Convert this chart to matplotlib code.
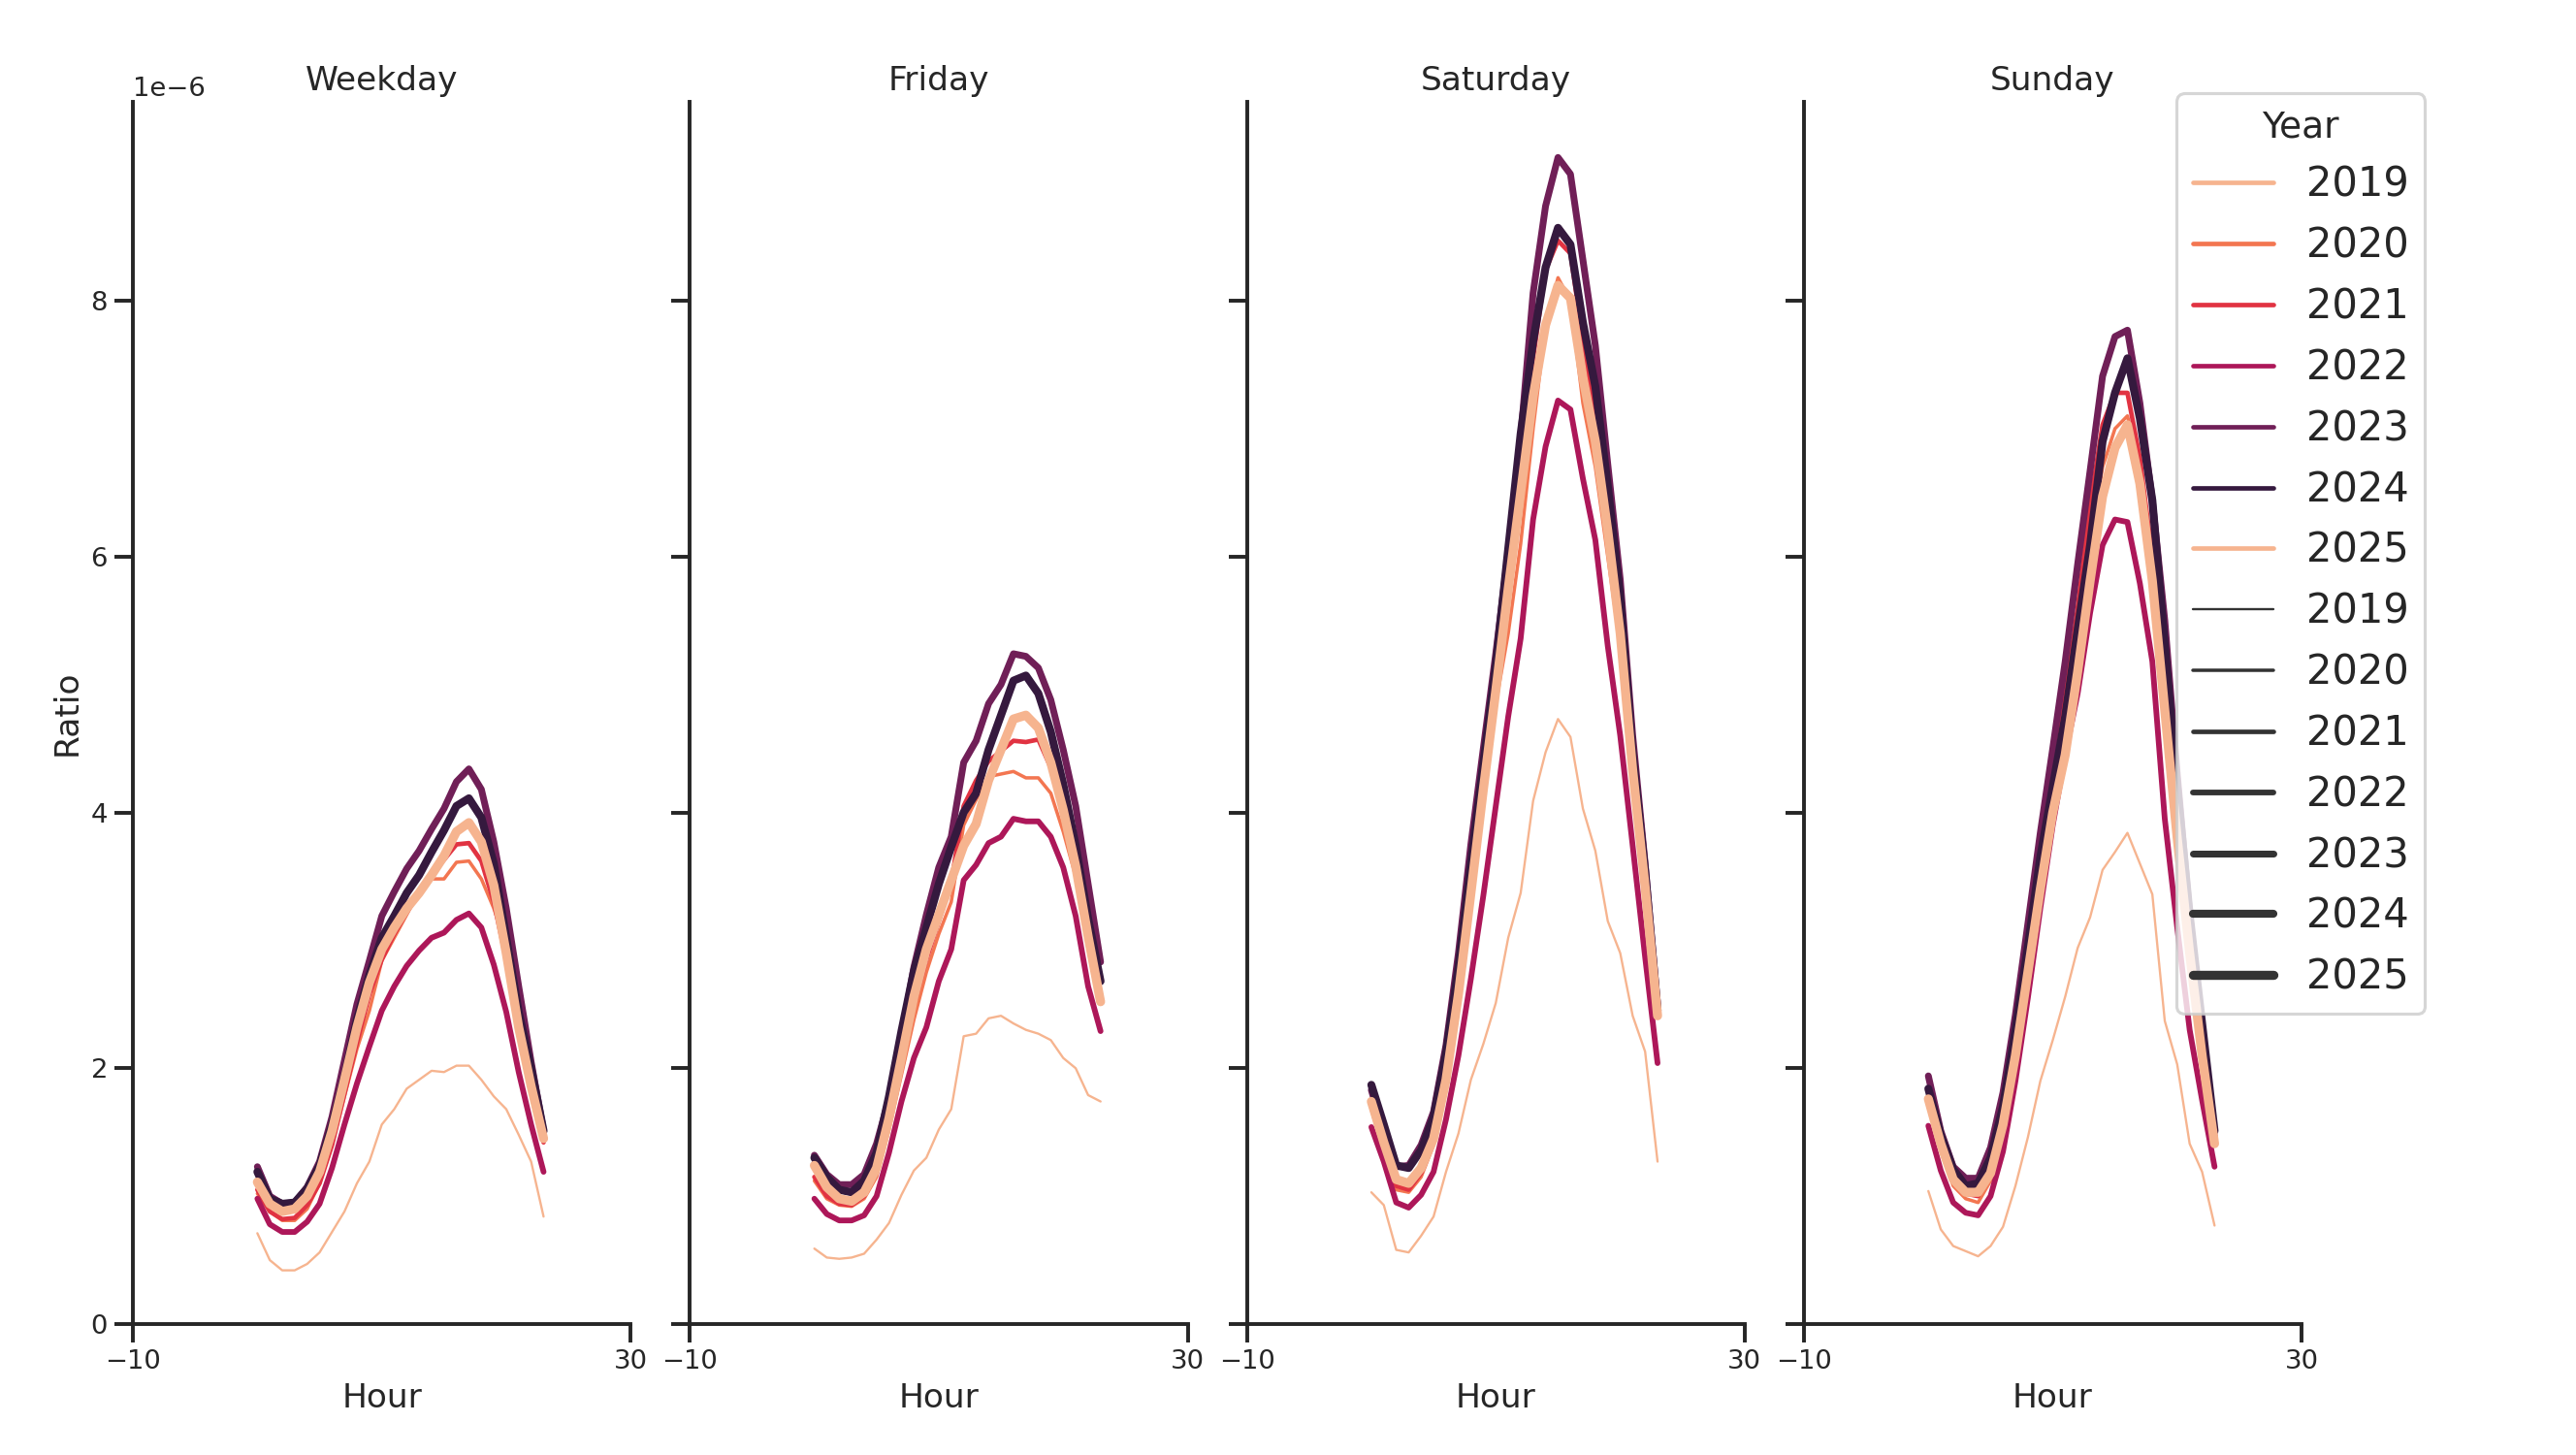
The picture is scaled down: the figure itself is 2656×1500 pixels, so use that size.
import numpy as np
import matplotlib
matplotlib.use("Agg")
import matplotlib.pyplot as plt
import seaborn as sns
from matplotlib.lines import Line2D

# Hour of day on the x axis, ratio (x 1e-6) on the y axis
hours = list(range(24))
years = [2019, 2020, 2021, 2022, 2023, 2024, 2025]
day_types = ["Weekday", "Friday", "Saturday", "Sunday"]

weekday = {
    2019: [0.71, 0.50, 0.42, 0.42, 0.47, 0.56, 0.72, 0.88, 1.10, 1.27, 1.56, 1.68,
           1.84, 1.91, 1.98, 1.97, 2.02, 2.02, 1.91, 1.78, 1.68, 1.48, 1.27, 0.84],
    2020: [1.02, 0.88, 0.81, 0.81, 0.90, 1.10, 1.40, 1.78, 2.15, 2.45, 2.84, 3.02,
           3.20, 3.38, 3.48, 3.48, 3.61, 3.62, 3.48, 3.25, 2.95, 2.45, 1.95, 1.45],
    2021: [1.05, 0.88, 0.82, 0.83, 0.93, 1.10, 1.40, 1.80, 2.20, 2.58, 2.85, 3.05,
           3.22, 3.37, 3.52, 3.63, 3.75, 3.76, 3.62, 3.30, 2.85, 2.30, 1.85, 1.42],
    2022: [0.98, 0.78, 0.72, 0.72, 0.80, 0.94, 1.22, 1.56, 1.88, 2.17, 2.45, 2.64,
           2.80, 2.92, 3.02, 3.06, 3.16, 3.21, 3.10, 2.81, 2.44, 1.97, 1.56, 1.19],
    2023: [1.23, 1.00, 0.94, 0.95, 1.07, 1.27, 1.62, 2.06, 2.50, 2.84, 3.19, 3.38,
           3.56, 3.70, 3.87, 4.03, 4.24, 4.34, 4.18, 3.77, 3.25, 2.64, 2.05, 1.51],
    2024: [1.19, 0.98, 0.94, 0.95, 1.06, 1.24, 1.56, 1.94, 2.38, 2.73, 3.02, 3.19,
           3.37, 3.51, 3.69, 3.86, 4.05, 4.11, 3.96, 3.60, 3.02, 2.44, 2.00, 1.51],
    2025: [1.11, 0.94, 0.88, 0.90, 1.00, 1.19, 1.51, 1.91, 2.32, 2.67, 2.93, 3.10,
           3.25, 3.37, 3.51, 3.66, 3.85, 3.92, 3.77, 3.43, 2.90, 2.32, 1.86, 1.45],
}

friday = {
    2019: [0.59, 0.52, 0.51, 0.52, 0.55, 0.66, 0.79, 1.01, 1.20, 1.30, 1.52, 1.68,
           2.25, 2.27, 2.39, 2.41, 2.35, 2.30, 2.27, 2.22, 2.08, 2.00, 1.79, 1.74],
    2020: [1.12, 0.98, 0.93, 0.92, 0.98, 1.15, 1.52, 1.95, 2.38, 2.75, 3.05, 3.30,
           3.90, 4.10, 4.28, 4.30, 4.32, 4.27, 4.27, 4.15, 3.85, 3.50, 3.05, 2.72],
    2021: [1.15, 1.00, 0.94, 0.93, 1.00, 1.20, 1.60, 2.05, 2.50, 2.85, 3.15, 3.45,
           4.05, 4.25, 4.40, 4.48, 4.56, 4.55, 4.57, 4.35, 4.00, 3.55, 3.05, 2.70],
    2022: [0.98, 0.86, 0.81, 0.81, 0.85, 1.00, 1.34, 1.74, 2.08, 2.32, 2.68, 2.93,
           3.47, 3.59, 3.76, 3.81, 3.95, 3.93, 3.93, 3.81, 3.57, 3.19, 2.64, 2.29],
    2023: [1.32, 1.17, 1.09, 1.09, 1.17, 1.41, 1.76, 2.25, 2.79, 3.20, 3.57, 3.81,
           4.39, 4.56, 4.85, 5.00, 5.24, 5.22, 5.13, 4.88, 4.49, 4.05, 3.44, 2.83],
    2024: [1.30, 1.15, 1.05, 1.03, 1.12, 1.34, 1.78, 2.29, 2.76, 3.10, 3.44, 3.73,
           4.00, 4.15, 4.49, 4.76, 5.03, 5.07, 4.93, 4.63, 4.22, 3.74, 3.17, 2.68],
    2025: [1.24, 1.07, 0.98, 0.96, 1.03, 1.22, 1.61, 2.08, 2.56, 2.93, 3.20, 3.47,
           3.74, 3.91, 4.25, 4.49, 4.73, 4.76, 4.66, 4.39, 4.02, 3.58, 3.03, 2.52],
}

saturday = {
    2019: [1.03, 0.93, 0.58, 0.56, 0.69, 0.84, 1.19, 1.49, 1.91, 2.19, 2.51, 3.02,
           3.37, 4.09, 4.47, 4.73, 4.59, 4.03, 3.70, 3.15, 2.90, 2.41, 2.13, 1.27],
    2020: [1.68, 1.35, 1.05, 1.03, 1.15, 1.40, 1.85, 2.50, 3.30, 4.10, 4.85, 5.40,
           6.10, 7.00, 7.80, 8.18, 8.00, 7.20, 6.70, 6.00, 5.30, 4.30, 3.40, 2.45],
    2021: [1.70, 1.38, 1.08, 1.05, 1.18, 1.42, 1.88, 2.55, 3.35, 4.15, 4.95, 5.80,
           6.75, 7.55, 8.24, 8.47, 8.37, 7.70, 7.10, 6.30, 5.50, 4.40, 3.50, 2.50],
    2022: [1.54, 1.27, 0.95, 0.91, 1.01, 1.19, 1.60, 2.10, 2.70, 3.35, 4.05, 4.75,
           5.36, 6.29, 6.86, 7.22, 7.15, 6.61, 6.13, 5.30, 4.60, 3.74, 2.87, 2.04],
    2023: [1.83, 1.50, 1.23, 1.24, 1.40, 1.66, 2.18, 2.90, 3.75, 4.50, 5.24, 6.03,
           6.93, 8.06, 8.74, 9.12, 8.99, 8.32, 7.65, 6.72, 5.82, 4.60, 3.60, 2.50],
    2024: [1.87, 1.56, 1.24, 1.22, 1.36, 1.62, 2.12, 2.79, 3.60, 4.38, 5.15, 6.06,
           6.96, 7.68, 8.26, 8.57, 8.44, 7.83, 7.33, 6.55, 5.68, 4.47, 3.54, 2.45],
    2025: [1.74, 1.42, 1.13, 1.10, 1.22, 1.45, 1.91, 2.58, 3.37, 4.18, 4.95, 5.75,
           6.50, 7.25, 7.81, 8.12, 8.02, 7.40, 6.90, 6.20, 5.40, 4.33, 3.42, 2.41],
}

sunday = {
    2019: [1.04, 0.74, 0.61, 0.57, 0.53, 0.61, 0.76, 1.08, 1.46, 1.90, 2.22, 2.56,
           2.94, 3.18, 3.55, 3.69, 3.84, 3.60, 3.36, 2.37, 2.03, 1.41, 1.19, 0.77],
    2020: [1.70, 1.35, 1.08, 0.98, 0.95, 1.12, 1.50, 2.05, 2.75, 3.45, 4.15, 4.75,
           5.40, 6.10, 6.70, 7.00, 7.10, 6.70, 5.90, 4.70, 3.70, 2.80, 2.05, 1.40],
    2021: [1.75, 1.40, 1.12, 1.02, 1.00, 1.18, 1.58, 2.15, 2.85, 3.55, 4.25, 4.90,
           5.60, 6.40, 7.03, 7.28, 7.28, 6.77, 6.00, 4.80, 3.80, 2.90, 2.10, 1.45],
    2022: [1.55, 1.20, 0.95, 0.87, 0.85, 1.00, 1.35, 1.90, 2.55, 3.25, 3.90, 4.45,
           4.93, 5.56, 6.09, 6.29, 6.27, 5.79, 5.18, 3.95, 3.10, 2.30, 1.75, 1.23],
    2023: [1.94, 1.51, 1.23, 1.14, 1.14, 1.38, 1.81, 2.42, 3.13, 3.84, 4.50, 5.18,
           5.94, 6.67, 7.41, 7.72, 7.77, 7.20, 6.44, 5.50, 4.30, 3.20, 2.30, 1.45],
    2024: [1.84, 1.48, 1.21, 1.08, 1.10, 1.30, 1.70, 2.30, 2.95, 3.65, 4.20, 4.75,
           5.43, 6.09, 6.90, 7.28, 7.55, 7.08, 6.44, 5.31, 4.20, 3.20, 2.35, 1.51],
    2025: [1.76, 1.41, 1.13, 1.03, 1.03, 1.18, 1.56, 2.10, 2.75, 3.40, 4.00, 4.45,
           5.10, 5.81, 6.47, 6.85, 7.03, 6.57, 5.81, 4.80, 3.80, 2.90, 2.10, 1.41],
}

panels = [weekday, friday, saturday, sunday]

sns.set_theme(style="ticks", context="talk")
plt.rcParams.update({
    "xtick.labelsize": 13.2,
    "ytick.labelsize": 13.2,
    "axes.labelsize": 16.5,
    "axes.titlesize": 16.5,
})

# 6-colour palette cycled over 7 years, widths grow with year
palette = sns.color_palette("rocket_r", 6)
base_lw = plt.rcParams["lines.linewidth"]
sizes = np.linspace(0.5 * base_lw, 2.0 * base_lw, len(years))

fig, axes = plt.subplots(1, 4, sharex=True, sharey=True, figsize=(2656 / 150, 10), dpi=150)
fig.subplots_adjust(left=0.0516, right=0.8935, bottom=0.09, top=0.93, wspace=0.119)

for ax, title, data in zip(axes, day_types, panels):
    for i, year in enumerate(years):
        ax.plot(hours, np.array(data[year]) * 1e-6, color=palette[i % len(palette)],
                lw=sizes[i], solid_capstyle="round")
    ax.set_title(title)
    ax.set_xlabel("Hour")
    sns.despine(ax=ax)

axes[0].set_xlim(-10, 30)
axes[0].set_xticks([-10, 30])
axes[0].set_ylim(0, 9.555e-6)
axes[0].set_yticks([0, 2e-6, 4e-6, 6e-6, 8e-6])
axes[0].set_ylabel("Ratio")

handles = [Line2D([], [], color=palette[i % len(palette)], lw=base_lw) for i in range(len(years))]
handles += [Line2D([], [], color=".2", lw=sizes[i]) for i in range(len(years))]
labels = [str(y) for y in years] * 2
fig.legend(handles, labels, title="Year", loc="upper right", bbox_to_anchor=(0.9413, 0.9357),
           borderaxespad=0, fontsize=20, title_fontsize=18, frameon=True)

fig.savefig("out.png", dpi=150)
